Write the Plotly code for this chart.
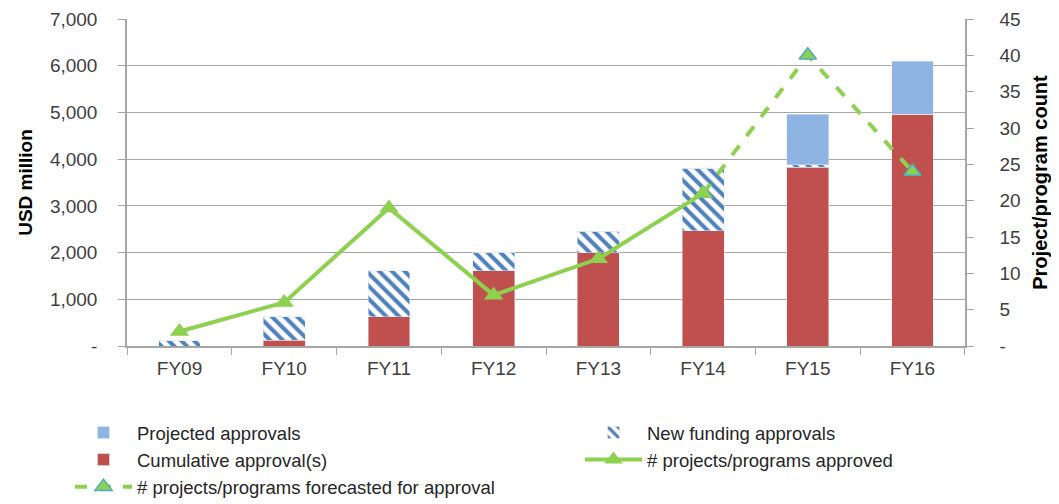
import plotly.graph_objects as go

categories = ["FY09", "FY10", "FY11", "FY12", "FY13", "FY14", "FY15", "FY16"]
cumulative = [0, 120, 630, 1610, 2000, 2470, 3830, 4960]
new_funding = [110, 510, 980, 400, 460, 1340, 50, 0]
projected = [0, 0, 0, 0, 0, 0, 1080, 1140]
approved = [2, 6, 19, 7, 12, 21, None, None]
forecast = [None, None, None, None, None, 21, 40, 24]

left_ticks = [0, 1000, 2000, 3000, 4000, 5000, 6000, 7000]
left_labels = ["-", "1,000", "2,000", "3,000", "4,000", "5,000", "6,000", "7,000"]
right_ticks = [0, 5, 10, 15, 20, 25, 30, 35, 40, 45]
right_labels = ["-", "5", "10", "15", "20", "25", "30", "35", "40", "45"]

FONT = "Liberation Sans"
GREEN = "#8DD14F"
W, H = 1059, 504
OFF = 8  # page body margin offset
ML, MR, MT, MB = 127 - OFF, W - 965 + OFF, 19 - OFF, H - 346 + OFF
PW = W - ML - MR

fig = go.Figure()
fig.add_trace(go.Bar(x=categories, y=cumulative, name="Cumulative approval(s)",
                     marker=dict(color="#C0504D"), width=0.4,
                     legend="legend", legendrank=2, legendgroup="c"))
fig.add_trace(go.Bar(x=categories, y=new_funding, name="New funding approvals",
                     marker=dict(color="white",
                                 pattern=dict(shape="\\", fgcolor="#4F81BD", bgcolor="white",
                                              size=9, solidity=0.45, fillmode="replace")),
                     width=0.4, legend="legend2", legendrank=1, legendgroup="n"))
fig.add_trace(go.Bar(x=categories, y=projected, name="Projected approvals",
                     marker=dict(color="#8DB4E2"), width=0.4,
                     legend="legend", legendrank=1, legendgroup="p"))
fig.add_trace(go.Scatter(x=categories, y=forecast, name="# projects/programs forecasted for approval",
                         yaxis="y2", mode="lines+markers",
                         line=dict(color=GREEN, width=4, dash="dash"),
                         marker=dict(symbol="triangle-up", size=15,
                                     color=GREEN, line=dict(color="#4BACC6", width=1.5)),
                         legend="legend", legendrank=3, legendgroup="f"))
fig.add_trace(go.Scatter(x=categories, y=approved, name="# projects/programs approved",
                         yaxis="y2", mode="lines+markers",
                         line=dict(color=GREEN, width=4),
                         marker=dict(symbol="triangle-up", size=17, color=GREEN),
                         legend="legend2", legendrank=2, legendgroup="a"))

legend_common = dict(orientation="v", yanchor="top", xanchor="left",
                     xref="paper", yref="container",
                     traceorder="normal", font=dict(size=18.5, color="#262626", family=FONT),
                     tracegroupgap=0, itemwidth=57, bgcolor="rgba(0,0,0,0)")

fig.update_layout(
    width=W, height=H,
    margin=dict(l=ML, r=MR, t=MT, b=MB),
    paper_bgcolor="white", plot_bgcolor="white",
    barmode="stack",
    font=dict(family=FONT, size=18, color="#404040"),
    xaxis=dict(showline=True, linecolor="#A6A6A6", linewidth=1.5,
               ticks="outside", tickson="boundaries", ticklen=7, tickcolor="#A6A6A6",
               ticklabelstandoff=4, automargin=False,
               tickfont=dict(size=19, color="#404040")),
    yaxis=dict(range=[0, 7000], tickvals=left_ticks, ticktext=left_labels,
               showgrid=True, gridcolor="#A6A6A6", gridwidth=1.2,
               showline=True, linecolor="#A6A6A6", linewidth=1.5,
               ticks="outside", ticklen=7, tickcolor="#A6A6A6",
               ticklabelstandoff=17, zeroline=False, automargin=False,
               title=dict(text="<b>USD million</b>", font=dict(size=19, color="black"), standoff=12),
               tickfont=dict(size=19, color="#404040")),
    yaxis2=dict(range=[0, 45], tickvals=right_ticks, ticktext=right_labels,
                overlaying="y", side="right", showgrid=False,
                showline=True, linecolor="#A6A6A6", linewidth=1.5,
                ticks="outside", ticklen=7, tickcolor="#A6A6A6",
                ticklabelstandoff=22, zeroline=False, automargin=False,
                title=dict(text="<b>Project/program count</b>", font=dict(size=20, color="black"), standoff=13),
                tickfont=dict(size=19, color="#404040")),
    legend=dict(x=(62 - ML) / PW, y=1 - 406 / H, **legend_common),
    legend2=dict(x=(572 - ML) / PW, y=1 - 406 / H, **legend_common),
    showlegend=True,
)

fig.write_html("out.html")
